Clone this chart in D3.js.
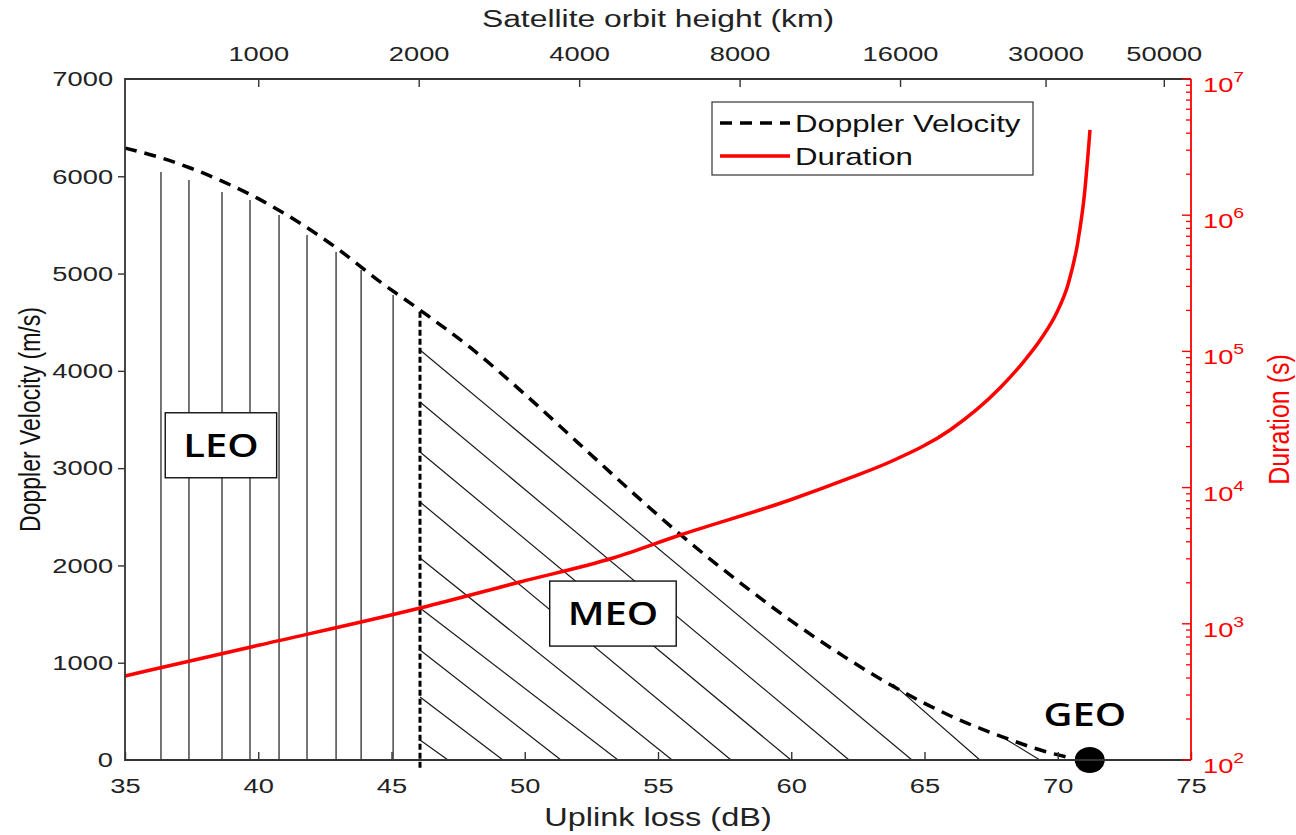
<!DOCTYPE html>
<html>
<head>
<meta charset="utf-8">
<script src="https://cdn.jsdelivr.net/npm/d3@7"></script>
<style>
  body { margin: 0; background: #fff; }
  text { font-family: "Liberation Sans", Arial, sans-serif; }
  .region { font-family: "Open Sans", "Noto Sans", sans-serif; }
</style>
</head>
<body>
<svg id="chart" width="1296" height="835"></svg>
<script>
// Doppler velocity (m/s) against uplink loss (dB)
const dopplerLoss = [35.0, 36.35, 37.5, 38.64, 40.0, 41.5, 43.0, 44.5, 46.07, 48.0, 50.0, 52.0, 54.0, 56.0, 58.0, 60.0, 62.0, 64.0, 66.0, 68.0, 69.5, 70.5];
const dopplerVel  = [6290, 6190, 6080, 5950, 5770, 5530, 5250, 4930, 4625, 4230, 3760, 3260, 2760, 2280, 1840, 1430, 1060, 730, 450, 230, 90, 20];

// visible duration (s), right log axis
const durLoss = [35.0, 40.0, 46.07, 49.82, 53.31, 55.83, 59.95, 62.2, 63.7, 65.96, 67.83, 68.7, 69.4, 69.95, 70.4, 70.75, 71.0, 71.21];
const durSec  = [414, 695, 1306, 2028, 3041, 4487, 8110, 11780, 15420, 26490, 53830, 83180, 125900, 190500, 316200, 631000, 1413000, 4227000];

// axes
const lossTicks = [35, 40, 45, 50, 55, 60, 65, 70, 75];
const velTicks = [0, 1000, 2000, 3000, 4000, 5000, 6000, 7000];
const heightTicks = [1000, 2000, 4000, 8000, 16000, 30000, 50000];
const durTicks = [1e2, 1e3, 1e4, 1e5, 1e6, 1e7];

// LEO hatching (vertical lines) : loss and top velocity
const leoHatchLoss = [36.35, 37.4, 38.64, 39.69, 40.78, 41.83, 42.92, 43.86, 45.06];
const leoHatchTop  = [6044, 5961, 5838, 5756, 5602, 5396, 5221, 5036, 4780];

// MEO hatching (diagonal lines) : start point, end loss on the 0 line
const meoStartLoss = [46.07, 46.07, 46.07, 46.07, 46.07, 46.07, 46.07, 46.07, 46.07, 63.82, 68.1];
const meoStartVel  = [206, 648, 1131, 1562, 2076, 2652, 3166, 3680, 4214, 780, 206];
const meoEndLoss   = [47.12, 49.18, 51.36, 53.5, 55.53, 57.74, 59.99, 62.17, 64.53, 67.08, 69.33];

// LEO / MEO border (2000 km)
const borderLoss = 46.07;
const borderVel = [-80, 4625];

// region labels
const regionNames = ["LEO", "MEO", "GEO"];
const regionLoss = [38.6, 53.31, 71.02];
const regionVel = [3230, 1500, 462];
const regionBoxed = [true, true, false];

const geoLoss = 71.2, geoVel = 0;

const seriesNames = ["Doppler Velocity", "Duration"];

// ------------------------------------------------------------
const svg = d3.select("#chart");
const L = 125, R = 1191, T = 79, B = 760;
const SX = 1.3; // text in the picture is stretched sideways

const x = d3.scaleLinear().domain([35, 75]).range([L, R]);
const y = d3.scaleLinear().domain([0, 7000]).range([B, T]);
const yR = d3.scaleLog().domain([1e2, 1e7]).range([B, T]);
// orbit height axis: free space loss grows 20 dB per decade of height
const kmAt = db => Math.pow(10, (db + 20) / 20);
const xTop = d3.scaleLog().domain([kmAt(35), kmAt(75)]).range([L, R]);

const frameColor = "#333";

// hatching
const hatch = svg.append("g").attr("stroke", "#1a1a1a").attr("stroke-width", 1.2);
hatch.selectAll("line.leo")
  .data(leoHatchLoss)
  .join("line")
  .attr("class", "leo")
  .attr("x1", d => x(d)).attr("x2", d => x(d))
  .attr("y1", y(0)).attr("y2", (d, i) => y(leoHatchTop[i]));

hatch.selectAll("line.meo")
  .data(meoStartLoss)
  .join("line")
  .attr("class", "meo")
  .attr("x1", d => x(d)).attr("y1", (d, i) => y(meoStartVel[i]))
  .attr("x2", (d, i) => x(meoEndLoss[i])).attr("y2", y(0));

// border 2000 km
svg.append("line")
  .attr("x1", x(borderLoss)).attr("x2", x(borderLoss))
  .attr("y1", y(borderVel[0])).attr("y2", y(borderVel[1]))
  .attr("stroke", "#000").attr("stroke-width", 3)
  .attr("stroke-dasharray", "6,3");

// curves
const dopLine = d3.line()
  .x(d => x(d[0])).y(d => y(d[1]))
  .curve(d3.curveMonotoneX);
svg.append("path")
  .datum(d3.zip(dopplerLoss, dopplerVel))
  .attr("d", dopLine)
  .attr("fill", "none").attr("stroke", "#000")
  .attr("stroke-width", 3.5).attr("stroke-dasharray", "12,8");

const durLine = d3.line()
  .x(d => x(d[0])).y(d => yR(d[1]))
  .curve(d3.curveMonotoneX);
svg.append("path")
  .datum(d3.zip(durLoss, durSec))
  .attr("d", durLine)
  .attr("fill", "none").attr("stroke", "#ff0000")
  .attr("stroke-width", 3.5);

// GEO marker
svg.append("ellipse")
  .attr("cx", x(geoLoss)).attr("cy", y(geoVel))
  .attr("rx", 15).attr("ry", 13).attr("fill", "#000");

// region labels
regionNames.forEach((name, i) => {
  const g = svg.append("g")
    .attr("transform", `translate(${x(regionLoss[i])},${y(regionVel[i])})`);
  const box = g.append("rect");
  const t = g.append("text")
    .attr("class", "region")
    .attr("text-anchor", "middle")
    .attr("transform", `scale(${SX * 0.96},1)`)
    .attr("y", 11)
    .attr("font-size", 32)
    .attr("font-weight", 600)
    .attr("fill", "#000")
    .text(name);
  if (regionBoxed[i]) {
    const w = t.node().getBBox().width * SX * 0.96 + 36;
    box.attr("x", -w / 2).attr("y", -33).attr("width", w).attr("height", 65)
      .attr("fill", "#fff").attr("stroke", "#111").attr("stroke-width", 1.4);
  } else box.remove();
});

// axes
const stretchText = (g, sx) => g.selectAll("text").attr("transform", `scale(${sx},1)`);

const axL = svg.append("g").attr("transform", `translate(${L},0)`)
  .call(d3.axisLeft(y).tickValues(velTicks).tickSize(7).tickPadding(2.2).tickFormat(d3.format("d")));
axL.select(".domain").remove();
axL.selectAll(".tick line").filter(d => d === 0 || d === 7000).remove();

const axB = svg.append("g").attr("transform", `translate(0,${B})`)
  .call(d3.axisBottom(x).tickValues(lossTicks).tickSizeInner(-8).tickSizeOuter(0).tickPadding(18));
axB.select(".domain").remove();

const axT = svg.append("g").attr("transform", `translate(0,${T})`)
  .call(d3.axisTop(xTop).tickValues(heightTicks).tickSizeInner(-8).tickSizeOuter(0).tickPadding(18).tickFormat(d3.format("d")));
axT.select(".domain").remove();

[axL, axB, axT].forEach(a => {
  a.selectAll(".tick line").attr("stroke", frameColor).attr("stroke-width", 1.4);
  a.selectAll("text").attr("font-size", 21).attr("fill", "#222")
    .style("font-family", '"Liberation Sans", Arial, sans-serif');
  stretchText(a, SX);
});

// frame
svg.append("path")
  .attr("d", `M${R},${T}H${L}V${B}H${R}`)
  .attr("fill", "none").attr("stroke", frameColor).attr("stroke-width", 1.8);

// right log axis (red)
const axR = svg.append("g").attr("stroke", "#ff0000");
const minors = [];
durTicks.slice(0, -1).forEach(d => { for (let k = 2; k <= 9; k++) minors.push(d * k); });
axR.selectAll("line.minor").data(minors).join("line")
  .attr("class", "minor")
  .attr("x1", R).attr("x2", R - 5)
  .attr("y1", d => yR(d)).attr("y2", d => yR(d))
  .attr("stroke-width", 1.3);
axR.selectAll("line.major").data(durTicks).join("line")
  .attr("class", "major")
  .attr("x1", R).attr("x2", R - 9)
  .attr("y1", d => yR(d)).attr("y2", d => yR(d))
  .attr("stroke-width", 1.4);
axR.append("line")
  .attr("x1", R).attr("x2", R).attr("y1", T).attr("y2", B)
  .attr("stroke-width", 1.8);

const rl = svg.append("g").attr("fill", "#ff0000");
durTicks.forEach(d => {
  const t = rl.append("text")
    .attr("transform", `translate(${R + 12},${yR(d) + 13}) scale(${SX},1)`)
    .attr("font-size", 21);
  t.append("tspan").text("10");
  t.append("tspan").attr("font-size", 15).attr("dy", -10).text(Math.round(Math.log10(d)));
});

// axis titles
svg.append("text")
  .attr("transform", `translate(${(L + R) / 2},27) scale(${SX},1)`)
  .attr("text-anchor", "middle").attr("font-size", 24.5).attr("fill", "#222")
  .text("Satellite orbit height (km)");
svg.append("text")
  .attr("transform", `translate(${(L + R) / 2},826) scale(${SX},1)`)
  .attr("text-anchor", "middle").attr("font-size", 25).attr("fill", "#222")
  .text("Uplink loss (dB)");
svg.append("text")
  .attr("transform", `translate(40,${(T + B) / 2}) scale(${SX},1) rotate(-90)`)
  .attr("text-anchor", "middle").attr("font-size", 23).attr("fill", "#111")
  .text("Doppler Velocity (m/s)");
svg.append("text")
  .attr("transform", `translate(1289,${(T + B) / 2}) scale(1.2,1) rotate(-90)`)
  .attr("text-anchor", "middle").attr("font-size", 25).attr("fill", "#ff0000")
  .text("Duration (s)");

// legend
const lg = svg.append("g").attr("transform", "translate(712,102)");
lg.append("rect").attr("width", 321).attr("height", 73)
  .attr("fill", "#fff").attr("stroke", frameColor).attr("stroke-width", 1.2);
const legendStyle = [
  { stroke: "#000", dash: "12,8" },
  { stroke: "#ff0000", dash: null }
];
seriesNames.forEach((name, i) => {
  const cy = 21 + i * 33;
  lg.append("line")
    .attr("x1", 8).attr("x2", 78).attr("y1", cy).attr("y2", cy)
    .attr("stroke", legendStyle[i].stroke).attr("stroke-width", 3.5)
    .attr("stroke-dasharray", legendStyle[i].dash);
  lg.append("text")
    .attr("transform", `translate(83,${cy + 9}) scale(${SX},1)`)
    .attr("font-size", 24).attr("fill", "#111")
    .text(name);
});
</script>
</body>
</html>
